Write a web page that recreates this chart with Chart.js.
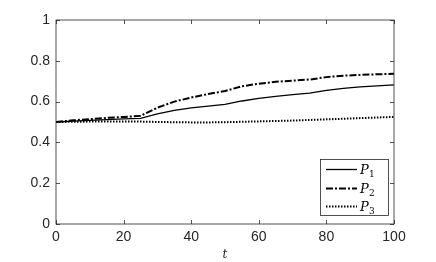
<!DOCTYPE html>
<html>
<head>
<meta charset="utf-8">
<script src="https://cdn.jsdelivr.net/npm/chart.js@4"></script>
<style>
  html, body { margin: 0; padding: 0; background: #fff; }
  #wrap { width: 436px; height: 262px; }
</style>
</head>
<body>
<div id="wrap"><canvas id="c"></canvas></div>
<script>
var times = [0, 5, 10, 15, 20, 25, 30, 35, 40, 45, 50, 55, 60, 65, 70, 75, 80, 85, 90, 95, 100];
var p1 = [0.5, 0.504, 0.508, 0.512, 0.515, 0.518, 0.54, 0.557, 0.569, 0.578, 0.586, 0.603, 0.616, 0.626, 0.634, 0.642, 0.655, 0.665, 0.672, 0.677, 0.682];
var p2 = [0.5, 0.508, 0.514, 0.52, 0.525, 0.53, 0.57, 0.6, 0.62, 0.637, 0.652, 0.675, 0.688, 0.697, 0.703, 0.708, 0.72, 0.727, 0.731, 0.734, 0.736];
var p3 = [0.5, 0.501, 0.502, 0.502, 0.502, 0.502, 0.5, 0.499, 0.498, 0.498, 0.499, 0.501, 0.503, 0.505, 0.507, 0.51, 0.513, 0.516, 0.519, 0.522, 0.525];
var seriesNames = ["1", "2", "3"];
var xTicks = [0, 20, 40, 60, 80, 100];
var yTicks = [0, 0.2, 0.4, 0.6, 0.8, 1];

var axisColor = "#262626";
var tickFont = { family: "'Liberation Sans', Arial, sans-serif", size: 14 };

function pts(vals) {
  return vals.map(function (v, i) { return { x: times[i], y: v }; });
}

// box with inward ticks on all four sides, plus the legend inside the plot
var boxPlugin = {
  id: "box",
  afterDraw: function (chart) {
    var ctx = chart.ctx, a = chart.chartArea;
    var xs = chart.scales.x, ys = chart.scales.y;
    ctx.save();
    ctx.strokeStyle = axisColor;
    ctx.lineWidth = 0.8;
    ctx.strokeRect(a.left, a.top, a.right - a.left, a.bottom - a.top);
    ctx.beginPath();
    xTicks.forEach(function (t) {
      var px = Math.round(xs.getPixelForValue(t)) + 0.5;
      ctx.moveTo(px, a.bottom); ctx.lineTo(px, a.bottom - 4);
      ctx.moveTo(px, a.top); ctx.lineTo(px, a.top + 4);
    });
    yTicks.forEach(function (t) {
      var py = Math.round(ys.getPixelForValue(t)) + 0.5;
      ctx.moveTo(a.left, py); ctx.lineTo(a.left + 4, py);
      ctx.moveTo(a.right, py); ctx.lineTo(a.right - 4, py);
    });
    ctx.stroke();

    var lx = 320, ly = 159, lw = 68, lh = 56;
    ctx.fillStyle = "#fff";
    ctx.fillRect(lx, ly, lw, lh);
    ctx.lineWidth = 0.8;
    ctx.strokeRect(lx + 0.5, ly + 0.5, lw, lh);
    var rows = [169, 188, 206];
    chart.data.datasets.forEach(function (ds, i) {
      var y = rows[i] + 0.5;
      ctx.strokeStyle = "#000";
      ctx.lineWidth = ds.borderWidth;
      ctx.setLineDash(ds.borderDash || []);
      ctx.beginPath();
      ctx.moveTo(326, y); ctx.lineTo(357, y);
      ctx.stroke();
      ctx.setLineDash([]);
      ctx.fillStyle = "#000";
      ctx.textBaseline = "alphabetic";
      ctx.font = "italic 13px 'DejaVu Serif', serif";
      ctx.fillText("P", 360, rows[i] + 5);
      ctx.font = "9px 'DejaVu Serif', serif";
      ctx.fillText(seriesNames[i], 369, rows[i] + 8);
    });
    ctx.restore();
  }
};

new Chart(document.getElementById("c"), {
  type: "line",
  data: {
    datasets: [
      { label: "P1", data: pts(p1), borderColor: "#000", borderWidth: 1.3, borderDash: [] },
      { label: "P2", data: pts(p2), borderColor: "#000", borderWidth: 2, borderDash: [7, 2, 2, 2] },
      { label: "P3", data: pts(p3), borderColor: "#000", borderWidth: 2, borderDash: [1.5, 1.5] }
    ]
  },
  options: {
    responsive: true,
    maintainAspectRatio: false,
    animation: false,
    layout: { padding: { left: 0, right: 42, top: 20, bottom: 0 } },
    elements: { point: { radius: 0 }, line: { tension: 0, fill: false } },
    plugins: { legend: { display: false }, tooltip: { enabled: false } },
    scales: {
      x: {
        type: "linear",
        min: 0, max: 100,
        afterBuildTicks: function (s) { s.ticks = xTicks.map(function (v) { return { value: v }; }); },
        afterFit: function (s) { s.height = 38; },
        grid: { display: false, drawTicks: false },
        border: { display: false },
        ticks: { color: axisColor, font: tickFont, padding: 5, maxRotation: 0 },
        title: {
          display: true, text: "t", color: axisColor,
          font: { family: "'DejaVu Serif', serif", size: 12, style: "italic" },
          padding: { top: 0, bottom: 0 }
        }
      },
      y: {
        min: 0, max: 1,
        afterBuildTicks: function (s) { s.ticks = yTicks.map(function (v) { return { value: v }; }); },
        afterFit: function (s) { s.width = 56; },
        grid: { display: false, drawTicks: false },
        border: { display: false },
        ticks: {
          color: axisColor, font: tickFont, padding: 6,
          callback: function (v) { return String(v); }
        }
      }
    }
  },
  plugins: [boxPlugin]
});
</script>
</body>
</html>
